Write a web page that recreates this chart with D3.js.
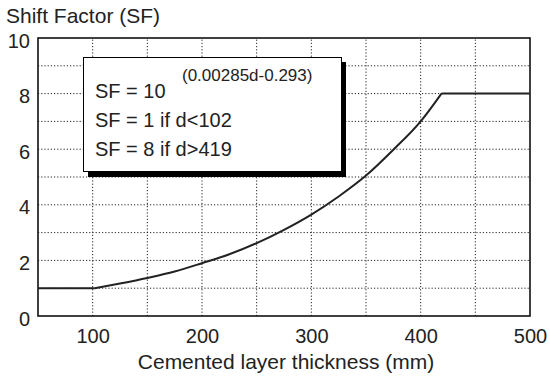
<!DOCTYPE html>
<html>
<head>
<meta charset="utf-8">
<script src="https://cdn.jsdelivr.net/npm/d3@7"></script>
<style>
  body { margin: 0; background: #fff; }
  svg text { font-family: "Liberation Sans", Arial, sans-serif; fill: #222; }
</style>
</head>
<body>
<svg id="chart" width="550" height="378"></svg>
<script>
// values
const thickness = [50, 102, 125, 150, 175, 200, 225, 250, 275, 300, 325, 350, 375, 400, 419, 500];
const shiftFactor = [1, 1, 1.17, 1.37, 1.6, 1.9, 2.22, 2.62, 3.1, 3.65, 4.3, 5.05, 5.98, 7.0, 8, 8];
const xTicks = [100, 200, 300, 400, 500];
const yTicks = [0, 2, 4, 6, 8, 10];
const legendLines = ["SF = 1 if d<102", "SF = 8 if d>419"];

const width = 550, height = 378;
const margin = {top: 38, right: 20, bottom: 62, left: 38};

const svg = d3.select("#chart");

const x = d3.scaleLinear().domain([50, 500]).range([margin.left, width - margin.right]);
const y = d3.scaleLinear().domain([0, 10]).range([height - margin.bottom, margin.top]);

// dotted grid
const grid = svg.append("g")
  .attr("stroke", "#222")
  .attr("stroke-width", 1)
  .attr("stroke-dasharray", "1.2,2");

grid.selectAll(".vg")
  .data(d3.range(100, 500, 50))
  .enter().append("line")
  .attr("x1", d => x(d)).attr("x2", d => x(d))
  .attr("y1", y(0)).attr("y2", y(10));

grid.selectAll(".hg")
  .data(d3.range(1, 10, 1))
  .enter().append("line")
  .attr("x1", x(50)).attr("x2", x(500))
  .attr("y1", d => y(d)).attr("y2", d => y(d));

// axes, labels only
const xAxis = svg.append("g")
  .attr("transform", `translate(0,${y(0)})`)
  .call(d3.axisBottom(x).tickValues(xTicks).tickSize(0).tickPadding(13));
xAxis.select(".domain").remove();
xAxis.selectAll("text").style("font-size", "20px").attr("fill", "#222");

const yAxis = svg.append("g")
  .attr("transform", `translate(${x(50)},0)`)
  .call(d3.axisLeft(y).tickValues(yTicks).tickSize(0).tickPadding(8));
yAxis.select(".domain").remove();
yAxis.selectAll("text").style("font-size", "20px").attr("fill", "#222").attr("dy", "0.45em");

// frame
svg.append("rect")
  .attr("x", x(50)).attr("y", y(10))
  .attr("width", x(500) - x(50)).attr("height", y(0) - y(10))
  .attr("fill", "none").attr("stroke", "#111").attr("stroke-width", 1.6);

// curve: flat part, rising part, plateau (corners at 102 and 419)
const pts = thickness.map((d, i) => [d, shiftFactor[i]]);
const i0 = thickness.indexOf(102), i1 = thickness.indexOf(419);
const segments = [
  {pts: pts.slice(0, i0 + 1), curve: d3.curveLinear},
  {pts: pts.slice(i0, i1 + 1), curve: d3.curveMonotoneX},
  {pts: pts.slice(i1), curve: d3.curveLinear}
];

svg.selectAll(".seg")
  .data(segments)
  .enter().append("path")
  .attr("d", s => d3.line().x(p => x(p[0])).y(p => y(p[1])).curve(s.curve)(s.pts))
  .attr("fill", "none")
  .attr("stroke", "#222")
  .attr("stroke-width", 2);

// axis titles
svg.append("text")
  .attr("x", 6).attr("y", 23)
  .style("font-size", "21px")
  .text("Shift Factor (SF)");

svg.append("text")
  .attr("x", 286).attr("y", 369)
  .attr("text-anchor", "middle")
  .style("font-size", "21px")
  .text("Cemented layer thickness (mm)");

// legend box with shadow
const lg = svg.append("g");
lg.append("rect")
  .attr("x", 88).attr("y", 62).attr("width", 258).attr("height", 115)
  .attr("fill", "#000");
lg.append("rect")
  .attr("x", 83.5).attr("y", 57.5).attr("width", 258).attr("height", 114)
  .attr("fill", "#fff").attr("stroke", "#000").attr("stroke-width", 1);

lg.append("text")
  .attr("x", 95).attr("y", 98)
  .style("font-size", "20px")
  .text("SF = 10");
lg.append("text")
  .attr("x", 182).attr("y", 81)
  .style("font-size", "17px")
  .text("(0.00285d-0.293)");
lg.selectAll(".ll")
  .data(legendLines)
  .enter().append("text")
  .attr("x", 95)
  .attr("y", (d, i) => 127 + i * 29)
  .style("font-size", "20px")
  .text(d => d);
</script>
</body>
</html>
